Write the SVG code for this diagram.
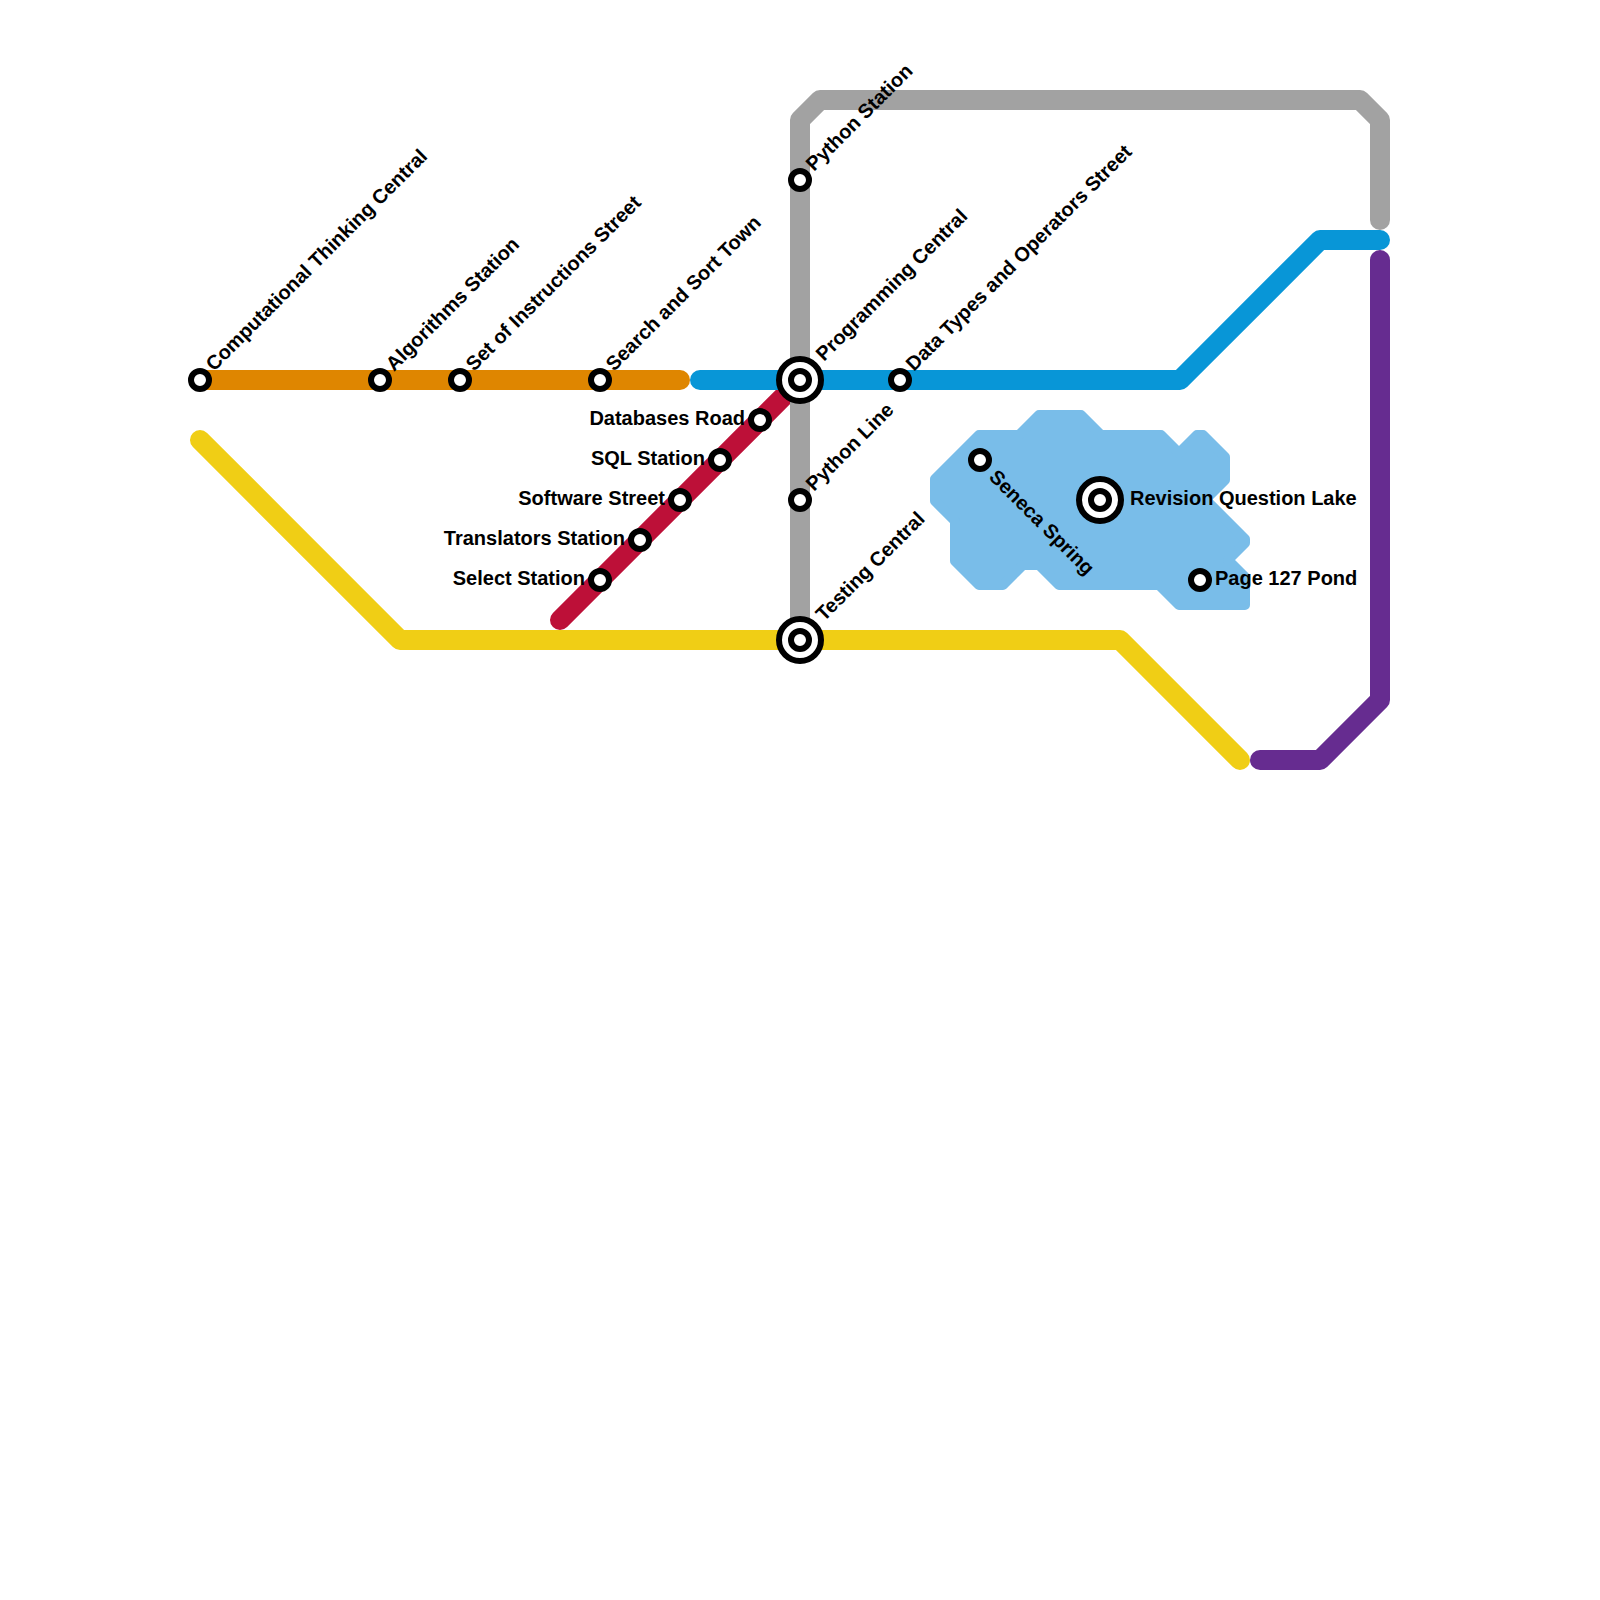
<svg xmlns="http://www.w3.org/2000/svg" width="1600" height="1600" viewBox="0 0 1600 1600">
<style>
.line{fill:none;stroke-width:20;stroke-linejoin:round;stroke-linecap:round}
.st{fill:#fff;stroke:#000;stroke-width:6}
.ring{fill:#fff;stroke:#000;stroke-width:6}
text{font-family:"Liberation Sans",Arial,sans-serif;font-size:20px;font-weight:700;fill:#000}
.e{text-anchor:end}
</style>
<rect width="1600" height="1600" fill="#fff"/>
<g id="lake"><polygon fill="#79bde9" stroke="#79bde9" stroke-width="10" stroke-linejoin="round" points="935,479 979,435 1019,435 1039,415 1081,415 1101,435 1161,435 1179,453 1197,435 1203,435 1225,457 1225,480 1205.5,499.5 1245,539 1245,543 1228,560 1245,577 1245,605 1179,605 1159,585 1059,585 1039,565 1023,565 1003,585 979,585 955,561 955,521 935,501"/></g>
<g id="connectors">
<path class="line" stroke="#bd1038" d="M560 620L800 380"/>
<path class="line" stroke="#df8600" d="M200 380H680"/>
<path class="line" stroke="#f0ce15" d="M200 440L400 640H1120L1240 760"/>
<path class="line" stroke="#a2a2a2" d="M1380 220V120L1360 100H820L800 120V640"/>
<path class="line" stroke="#0896d7" d="M700 380H1180L1320 240H1380"/>
<path class="line" stroke="#662c90" d="M1260 760H1320L1380 700V260"/>
</g>
<g id="n1"><circle class="st" cx="200" cy="380" r="9"/><text transform="translate(214 372) rotate(-45)">Computational Thinking Central</text></g>
<g id="n2"><circle class="st" cx="380" cy="380" r="9"/><text transform="translate(394 372) rotate(-45)">Algorithms Station</text></g>
<g id="n3"><circle class="st" cx="460" cy="380" r="9"/><text transform="translate(474 372) rotate(-45)">Set of Instructions Street</text></g>
<g id="n4"><circle class="st" cx="600" cy="380" r="9"/><text transform="translate(614 372) rotate(-45)">Search and Sort Town</text></g>
<g id="n5"><circle class="ring" cx="800" cy="380" r="21"/><circle class="st" cx="800" cy="380" r="9"/><text transform="translate(824 362) rotate(-45)">Programming Central</text></g>
<g id="n6"><circle class="st" cx="900" cy="380" r="9"/><text transform="translate(914 372) rotate(-45)">Data Types and Operators Street</text></g>
<g id="n7"><circle class="st" cx="800" cy="180" r="9"/><text transform="translate(814 172) rotate(-45)">Python Station</text></g>
<g id="n8"><circle class="st" cx="800" cy="500" r="9"/><text transform="translate(814 492) rotate(-45)">Python Line</text></g>
<g id="n9"><circle class="ring" cx="800" cy="640" r="21"/><circle class="st" cx="800" cy="640" r="9"/><text transform="translate(824 622) rotate(-45)">Testing Central</text></g>
<g id="n10"><circle class="st" cx="760" cy="420" r="9"/><text class="e" x="745" y="425">Databases Road</text></g>
<g id="n11"><circle class="st" cx="720" cy="460" r="9"/><text class="e" x="705" y="465">SQL Station</text></g>
<g id="n12"><circle class="st" cx="680" cy="500" r="9"/><text class="e" x="665" y="505">Software Street</text></g>
<g id="n13"><circle class="st" cx="640" cy="540" r="9"/><text class="e" x="625" y="545">Translators Station</text></g>
<g id="n14"><circle class="st" cx="600" cy="580" r="9"/><text class="e" x="585" y="585">Select Station</text></g>
<g id="n15"><circle class="st" cx="980" cy="460" r="9"/><text transform="translate(988 478) rotate(45)">Seneca Spring</text></g>
<g id="n16"><circle class="ring" cx="1100" cy="500" r="21"/><circle class="st" cx="1100" cy="500" r="9"/><text x="1130" y="505">Revision Question Lake</text></g>
<g id="n17"><circle class="st" cx="1200" cy="580" r="9"/><text x="1215" y="585">Page 127 Pond</text></g>
</svg>
